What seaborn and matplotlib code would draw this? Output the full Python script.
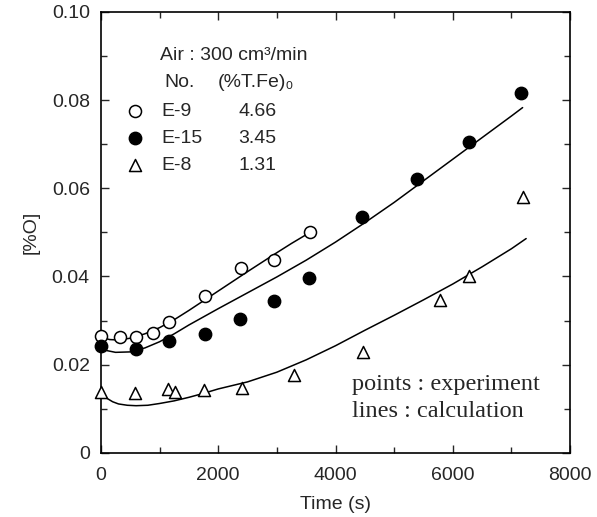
import matplotlib
matplotlib.use("Agg")
import matplotlib.pyplot as plt
from matplotlib.lines import Line2D
from matplotlib.ticker import MultipleLocator
import seaborn as sns

# experiment points (time s, %O)
e9_t = [0, 318, 600, 886, 1158, 1771, 2397, 2959, 3571]
e9_o = [0.0264, 0.0263, 0.0262, 0.0272, 0.0296, 0.0356, 0.0420, 0.0438, 0.0500]
e15_t = [0, 596, 1153, 1767, 2375, 2954, 3556, 4453, 5388, 6276, 7155]
e15_o = [0.0242, 0.0235, 0.0253, 0.0269, 0.0304, 0.0345, 0.0396, 0.0535, 0.0622, 0.0706, 0.0815]
e8_t = [0, 574, 1150, 1262, 1751, 2399, 3285, 4477, 5777, 6269, 7201]
e8_o = [0.0138, 0.0136, 0.0144, 0.0138, 0.0143, 0.0148, 0.0177, 0.0228, 0.0346, 0.0400, 0.0580]

# calculated curves
e9_line_t = [0, 150, 300, 500, 750, 1000, 1250, 1500, 1750, 2000, 2500, 3000, 3250, 3540]
e9_line_o = [0.0262, 0.0257, 0.0256, 0.0260, 0.0270, 0.0284, 0.0302, 0.0323, 0.0345,
             0.0367, 0.0411, 0.0454, 0.0475, 0.0498]
e15_line_t = [0, 100, 250, 500, 750, 1000, 1250, 1500, 2000, 2500, 3000, 3500, 4000,
              4500, 5000, 5500, 6000, 6500, 7000, 7190]
e15_line_o = [0.0238, 0.0232, 0.0228, 0.0229, 0.0238, 0.0252, 0.0270, 0.0290, 0.0327,
              0.0363, 0.0399, 0.0437, 0.0478, 0.0522, 0.0568, 0.0617, 0.0666, 0.0715,
              0.0764, 0.0783]
e8_line_t = [0, 50, 100, 200, 300, 450, 600, 800, 1000, 1250, 1500, 1750, 2000, 2500,
             3000, 3500, 4000, 4500, 5000, 5500, 6000, 6500, 7000, 7250]
e8_line_o = [0.0140, 0.0131, 0.0124, 0.0116, 0.0111, 0.0108, 0.0107, 0.0108, 0.0112,
             0.0118, 0.0126, 0.0135, 0.0145, 0.0161, 0.0183, 0.0211, 0.0243, 0.0278,
             0.0312, 0.0347, 0.0383, 0.0422, 0.0463, 0.0486]

runs = ["E-9", "E-15", "E-8"]
tfe0 = ["4.66", "3.45", "1.31"]

sns.set_style("ticks")
plt.rcParams["font.family"] = ["Liberation Sans", "DejaVu Sans"]

fig = plt.figure(figsize=(5.97, 5.17), dpi=100)
ax = fig.add_axes([0.169, 0.124, 0.786, 0.853])

# lines : calculation
for t, o in [(e9_line_t, e9_line_o), (e15_line_t, e15_line_o), (e8_line_t, e8_line_o)]:
    sns.lineplot(x=t, y=o, color="black", linewidth=1.1, sort=False, estimator=None, ax=ax)

# points : experiment
h9 = sns.scatterplot(x=e9_t, y=e9_o, marker="o", color="white", edgecolor="black",
                     linewidth=1.1, s=75, ax=ax, zorder=3, clip_on=False).collections[-1]
h15 = sns.scatterplot(x=e15_t, y=e15_o, marker="o", color="black", edgecolor="black",
                      linewidth=1.0, s=80, ax=ax, zorder=3, clip_on=False).collections[-1]
h8 = sns.scatterplot(x=e8_t, y=e8_o, marker="^", color="white", edgecolor="black",
                     linewidth=1.1, s=75, ax=ax, zorder=3, clip_on=False).collections[-1]

ax.set_xlim(0, 8000)
ax.set_ylim(0, 0.10)
ax.xaxis.set_major_locator(MultipleLocator(2000))
ax.xaxis.set_minor_locator(MultipleLocator(1000))
ax.yaxis.set_major_locator(MultipleLocator(0.02))
ax.yaxis.set_minor_locator(MultipleLocator(0.01))
ax.xaxis.set_major_formatter(plt.FuncFormatter(lambda v, p: f"{v:.0f}"))
ax.yaxis.set_major_formatter(plt.FuncFormatter(lambda v, p: "0" if v == 0 else f"{v:.2f}"))
ax.tick_params(which="both", direction="in", top=True, right=True, width=1.0,
               labelsize=14)
ax.tick_params(axis="x", pad=10)
ax.tick_params(axis="y", pad=8)
ax.tick_params(which="major", length=6)
ax.tick_params(which="minor", length=4)
for sp in ax.spines.values():
    sp.set_linewidth(1.2)
    sp.set_color("black")

ax.set_xlabel("Time (s)", fontsize=14, labelpad=9)
ax.set_ylabel("[%O]", fontsize=14, labelpad=9)

# header of the key
ax.text(0.126, 0.900, "Air : 300 cm³/min", transform=ax.transAxes, fontsize=14, va="center")
ax.text(0.136, 0.840, "No.", transform=ax.transAxes, fontsize=14, va="center")
ax.text(0.249, 0.840, "(%T.Fe)₀", transform=ax.transAxes, fontsize=14, va="center")

blank = Line2D([], [], linestyle="none")
ax.legend(handles=[h9, h15, h8, blank, blank, blank], labels=runs + tfe0, ncol=2,
          loc="upper left", bbox_to_anchor=(0.052, 0.794), frameon=False, fontsize=14,
          borderpad=0, borderaxespad=0, handlelength=1.0, handletextpad=0.84,
          columnspacing=0.0, labelspacing=0.48)

ax.text(0.535, 0.155, "points : experiment", transform=ax.transAxes,
        family="Liberation Serif", fontsize=17.5, va="center")
ax.text(0.535, 0.093, "lines : calculation", transform=ax.transAxes,
        family="Liberation Serif", fontsize=17.5, va="center")

fig.savefig("out.png", dpi=100)
